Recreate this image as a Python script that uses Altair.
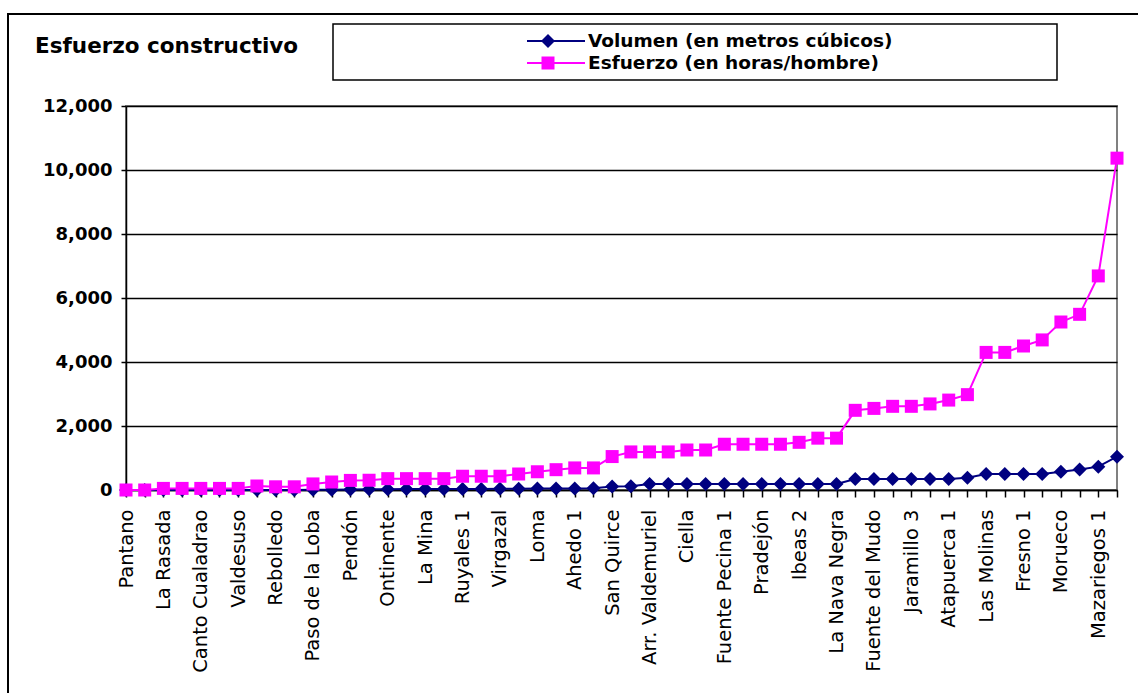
import json
import altair as alt
import pandas as pd

# Obras ordenadas por esfuerzo; en el eje sólo se rotula una de cada dos
sitios = [
    "Pantano", "La Rasada", "Canto Cualadrao", "Valdesuso", "Rebolledo",
    "Paso de la Loba", "Pendón", "Ontinente", "La Mina", "Ruyales 1",
    "Virgazal", "Loma", "Ahedo 1", "San Quirce", "Arr. Valdemuriel",
    "Ciella", "Fuente Pecina 1", "Pradejón", "Ibeas 2", "La Nava Negra",
    "Fuente del Mudo", "Jaramillo 3", "Atapuerca 1", "Las Molinas",
    "Fresno 1", "Morueco", "Mazariegos 1",
]

volumen = [
    0, 0, 0, 0, 0, 0, 0, 0, 0, 0,
    5, 10, 15, 20, 25, 30, 30, 30, 35, 35,
    40, 40, 45, 50, 50, 55, 110, 120, 185, 185,
    185, 185, 185, 185, 185, 185, 185, 185, 185, 340,
    340, 340, 340, 340, 340, 380, 500, 500, 500, 500,
    570, 640, 730, 1040,
]

esfuerzo = [
    0, 0, 50, 50, 50, 50, 50, 125, 100, 100,
    190, 250, 300, 305, 355, 355, 355, 355, 430, 430,
    430, 500, 570, 635, 690, 690, 1045, 1190, 1190, 1190,
    1250, 1250, 1430, 1430, 1430, 1430, 1490, 1620, 1620, 2490,
    2550, 2615, 2615, 2690, 2810, 2980, 4300, 4300, 4500, 4690,
    5250, 5490, 6690, 10370,
]

serie_vol = "Volumen (en metros cúbicos)"
serie_esf = "Esfuerzo (en horas/hombre)"
azul = "#000080"
rosa = "#FF00FF"
fuente = "DejaVu Sans"

n = len(esfuerzo)
df_vol = pd.DataFrame({"idx": list(range(n)), "valor": volumen})
df_esf = pd.DataFrame({"idx": list(range(n)), "valor": esfuerzo})
uno = pd.DataFrame({"k": [0]})

etiquetas = json.dumps(sitios)
x_enc = alt.X(
    "idx:Q",
    scale=alt.Scale(domain=[0, n - 1], nice=False, zero=False),
    axis=alt.Axis(
        values=list(range(n)),
        labelExpr=f"datum.value % 2 == 0 ? {etiquetas}[datum.value / 2] : ''",
        labelAngle=-90, labelAlign="right", labelBaseline="middle",
        labelFont=fuente, labelFontSize=19.5, labelColor="black",
        labelPadding=12, labelOverlap=False, labelBound=False,
        tickSize=7, tickColor="black", tickWidth=1.5,
        domainColor="black", domainWidth=1.5,
        grid=False, title=None,
    ),
)
y_enc = alt.Y(
    "valor:Q",
    scale=alt.Scale(domain=[0, 12000], nice=False),
    axis=alt.Axis(
        values=[0, 2000, 4000, 6000, 8000, 10000, 12000],
        format=",.0f",
        labelFont=fuente, labelFontSize=18, labelFontWeight="bold",
        labelColor="black", labelPadding=9,
        tickSize=5, tickColor="black", tickWidth=1.5,
        domainColor="black", domainWidth=1.5,
        grid=True, gridColor="black", gridWidth=1.5,
        title=None,
    ),
)


def serie(df, color, forma, tam):
    base = alt.Chart(df).encode(x=x_enc, y=y_enc)
    linea = base.mark_line(color=color, strokeWidth=2)
    puntos = base.mark_point(shape=forma, filled=True, color=color, size=tam, opacity=1)
    return linea + puntos


# Título y leyenda, situados respecto al área de trazado (origen en 126,106)
marco = alt.Chart(uno).mark_rect(fill="transparent", stroke="black", strokeWidth=2).encode(
    x=alt.value(-118), x2=alt.value(1030), y=alt.value(-92), y2=alt.value(620)
)
titulo = alt.Chart(uno).mark_text(
    text="Esfuerzo constructivo", font=fuente, fontSize=21.5, fontWeight="bold",
    align="left", baseline="middle", color="black",
).encode(x=alt.value(-91), y=alt.value(-59))

caja = alt.Chart(uno).mark_rect(fill="white", stroke="black", strokeWidth=1.5).encode(
    x=alt.value(207), x2=alt.value(931), y=alt.value(-82), y2=alt.value(-26)
)


def entrada(texto, color, forma, tam, yy):
    trazo = alt.Chart(uno).mark_rule(color=color, strokeWidth=2).encode(
        x=alt.value(401), x2=alt.value(459), y=alt.value(yy)
    )
    marca = alt.Chart(uno).mark_point(shape=forma, filled=True, color=color, size=tam, opacity=1).encode(
        x=alt.value(422), y=alt.value(yy)
    )
    rotulo = alt.Chart(uno).mark_text(
        text=texto, font=fuente, fontSize=18.5, fontWeight="bold",
        align="left", baseline="middle", color="black",
    ).encode(x=alt.value(462), y=alt.value(yy))
    return trazo + marca + rotulo


chart = alt.layer(
    marco,
    serie(df_vol, azul, "diamond", 196),
    serie(df_esf, rosa, "square", 169),
    titulo,
    caja,
    entrada(serie_vol, azul, "diamond", 196, -65),
    entrada(serie_esf, rosa, "square", 169, -43),
).properties(
    width=991, height=384,
    autosize=alt.AutoSizeParams(type="none"),
    padding={"left": 126, "top": 106, "right": 21, "bottom": 203},
    background="white",
).configure_view(
    stroke="#808080", strokeWidth=2
)

chart.save("out.html", embed_options={"renderer": "svg", "actions": False})
